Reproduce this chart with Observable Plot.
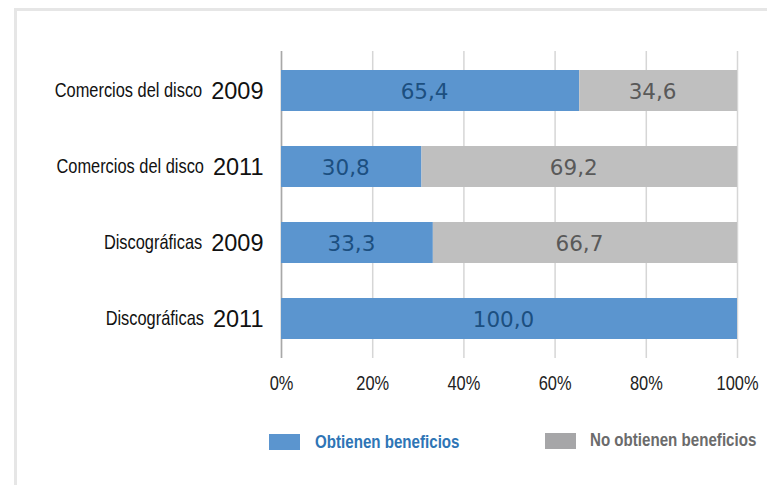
<!DOCTYPE html>
<html>
<head>
<meta charset="utf-8">
<script src="https://cdn.jsdelivr.net/npm/d3@7"></script>
<script src="https://cdn.jsdelivr.net/npm/@observablehq/plot@0.6"></script>
<style>
  html, body { margin: 0; padding: 0; background: #fff; }
  #wrap { position: relative; width: 767px; height: 485px; overflow: hidden; }
  #frame { position: absolute; left: 14px; top: 8px; width: 800px; height: 600px;
           border-top: 3px solid #e6e6e6; border-left: 3px solid #e6e6e6; }
  #chart { position: absolute; left: 0; top: 0; }
  .sw { position: absolute; width: 31px; height: 16px; }
  .lt { position: absolute; font-family: "Liberation Sans", Arial, sans-serif;
        font-weight: bold; font-size: 18px; line-height: 16px; white-space: nowrap;
        transform: scaleX(0.84); transform-origin: 0 50%; }
</style>
</head>
<body>
<div id="wrap">
  <div id="frame"></div>
  <div id="chart"></div>
  <div class="sw" style="left:269px; top:434px; background:#5b95cf;"></div>
  <div class="lt" style="left:315px; top:434px; color:#2e75b6;">Obtienen beneficios</div>
  <div class="sw" style="left:545px; top:433px; background:#a6a6a8;"></div>
  <div class="lt" style="left:590px; top:432px; color:#6b6b6b;">No obtienen beneficios</div>
</div>
<script>
const names = ["Comercios del disco", "Comercios del disco", "Discográficas", "Discográficas"];
const years = ["2009", "2011", "2009", "2011"];
const obtienen = [65.4, 30.8, 33.3, 100.0];
const noObtienen = [34.6, 69.2, 66.7, 0.0];
const series = ["Obtienen beneficios", "No obtienen beneficios"];
const xTicks = [0, 20, 40, 60, 80, 100];

const labels = names.map((n, i) => n + " " + years[i]);
const rows = [];
labels.forEach((l, i) => {
  rows.push({label: l, serie: series[0], value: obtienen[i]});
  if (noObtienen[i] > 0) rows.push({label: l, serie: series[1], value: noObtienen[i]});
});
const fmt = v => v.toFixed(1).replace(".", ",");
const sans = '"Liberation Sans", Arial, sans-serif';

const valueLabels = (serie, color) => Plot.text(rows, Plot.stackX({
  x: "value", y: "label", z: "serie", order: series,
  text: d => d.serie === serie ? fmt(d.value) : "",
  fill: color, fontSize: 21.5, fontFamily: "DejaVu Sans", dx: -6, dy: 1
}));

const plot = Plot.plot({
  width: 767,
  height: 400,
  marginLeft: 281,
  marginRight: 30,
  marginTop: 51,
  marginBottom: 42,
  style: {background: "transparent", overflow: "visible"},
  x: {domain: [0, 100], ticks: xTicks},
  y: {domain: labels, paddingInner: 0.455, paddingOuter: 0.2275},
  color: {domain: series, range: ["#5b95cf", "#bfbfbf"]},
  marks: [
    Plot.gridX(xTicks, {stroke: "#d6d6d6", strokeOpacity: 1, strokeWidth: 1.5}),
    Plot.ruleX([0], {stroke: "#a8a8a8", strokeWidth: 1.5}),
    Plot.barX(rows, Plot.stackX({x: "value", y: "label", fill: "serie", order: series})),
    valueLabels(series[0], "#1c4f80"),
    valueLabels(series[1], "#595959"),
    Plot.axisX({ticks: xTicks, tickSize: 0, tickPadding: 17, tickFormat: d => d + "%",
      fontSize: 20, fontFamily: sans, fill: "#222", label: null}),
    Plot.axisY({tickSize: 0, tickPadding: 18, fontSize: 23.5, fontFamily: sans,
      fill: "#111", label: null, tickFormat: l => l.slice(l.lastIndexOf(" ") + 1)})
  ]
});
document.getElementById("chart").appendChild(plot);

// condensed look: compress glyphs horizontally
function squish(el, f) {
  const len = el.getComputedTextLength();
  el.setAttribute("textLength", (len * f).toFixed(2));
  el.setAttribute("lengthAdjust", "spacingAndGlyphs");
}

d3.select(plot).selectAll('[aria-label="x-axis tick label"] text').each(function() { squish(this, 0.82); });

// the y tick label shows the year; add the condensed name in front of it
d3.select(plot).selectAll('[aria-label="y-axis tick label"] text').each(function(d, i) {
  const yr = this;
  const w = yr.getComputedTextLength();
  const x0 = +(yr.getAttribute("x") || 0) - w - 9;
  const t = document.createElementNS("http://www.w3.org/2000/svg", "text");
  const base = yr.getAttribute("transform") || "";
  t.setAttribute("transform", `${base} translate(${x0.toFixed(2)},0) scale(0.82,1)`);
  ["y", "dy"].forEach(a => { if (yr.hasAttribute(a)) t.setAttribute(a, yr.getAttribute(a)); });
  t.setAttribute("font-size", 20);
  t.setAttribute("text-anchor", "end");
  t.textContent = names[i];
  yr.parentNode.insertBefore(t, yr);
});
</script>
</body>
</html>
